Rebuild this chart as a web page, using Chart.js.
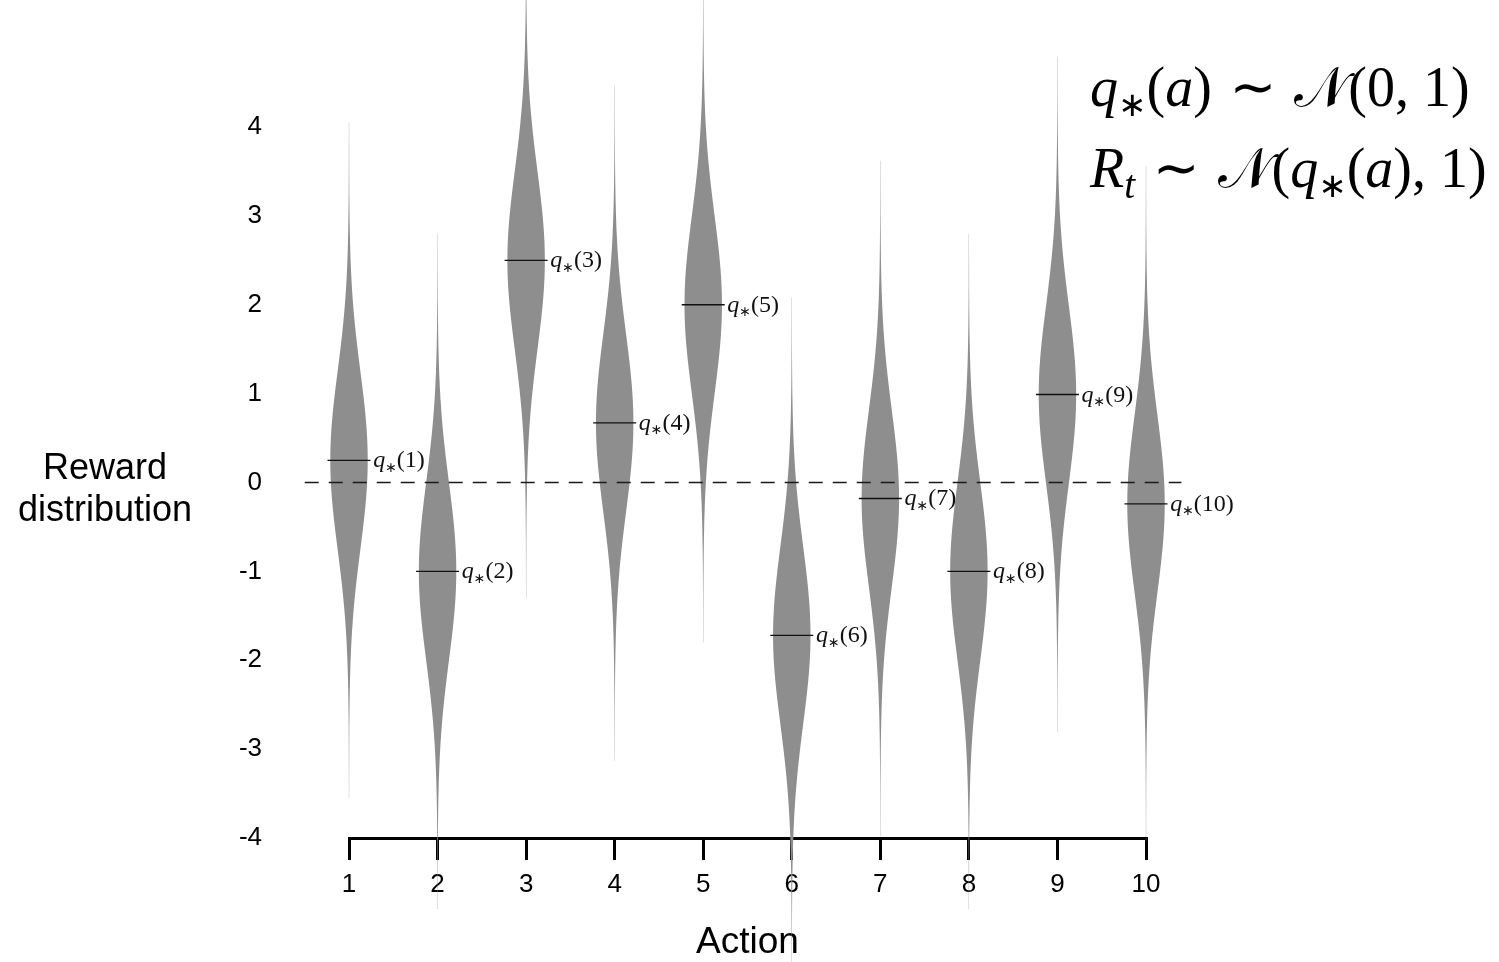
<!DOCTYPE html>
<html lang="en">

<head>
    <meta charset="UTF-8" />
    <title>Reward distribution | 10-armed testbed</title>
    <script src="https://cdn.jsdelivr.net/npm/chart.js"></script>
    <style>
        html, body { margin: 0; padding: 0; background: #fff; }
    </style>
</head>

<body>
    <canvas id="myChartCanvas" width="1499" height="962"></canvas>
</body>

</html>

<script>
    // actions (x axis) and the true action values q*(a)
    const actions = [1, 2, 3, 4, 5, 6, 7, 8, 9, 10];
    const qStar = [0.25, -1.0, 2.5, 0.67, 2.0, -1.72, -0.18, -1.0, 0.99, -0.24];
    const yTicks = [-4, -3, -2, -1, 0, 1, 2, 3, 4];

    const sansFont = '"Liberation Sans", Arial, Helvetica, sans-serif';
    const serifFont = '"Liberation Serif", "DejaVu Serif", serif';

    // draws a list of text pieces one after another (for the little formulas)
    function drawRuns(ctx, runs, x, y, size) {
        for (const r of runs) {
            ctx.font = `${r.it ? 'italic ' : ''}${Math.round(size * (r.s || 1))}px ${r.f || serifFont}`;
            ctx.fillText(r.t, x, y + size * (r.dy || 0));
            x += ctx.measureText(r.t).width + size * (r.sp || 0);
        }
        return x;
    }

    // violins: unit-variance normal around each q*(a), drawn with the chart scales
    const violinPlugin = {
        id: 'violins',
        beforeDatasetsDraw(chart) {
            const { ctx, scales: { x, y } } = chart;
            const maxHalf = 0.21; // half width of the violin at its peak, in x units
            const spread = 3.8;
            const steps = 240;
            ctx.save();
            ctx.fillStyle = '#8e8e8e';
            for (let i = 0; i < actions.length; i++) {
                const cx = x.getPixelForValue(actions[i]);
                const q = qStar[i];
                ctx.beginPath();
                for (let k = 0; k <= steps; k++) {
                    const v = q + spread - k * 2 * spread / steps;
                    const d = Math.exp(-0.5 * (v - q) * (v - q));
                    const hw = x.getPixelForValue(actions[i] + maxHalf * d) - cx + 0.12;
                    ctx.lineTo(cx + hw, y.getPixelForValue(v));
                }
                for (let k = steps; k >= 0; k--) {
                    const v = q + spread - k * 2 * spread / steps;
                    const d = Math.exp(-0.5 * (v - q) * (v - q));
                    const hw = x.getPixelForValue(actions[i] + maxHalf * d) - cx + 0.12;
                    ctx.lineTo(cx - hw, y.getPixelForValue(v));
                }
                ctx.closePath();
                ctx.fill();
            }

            // dashed zero line
            const y0 = y.getPixelForValue(0);
            ctx.strokeStyle = '#1a1a1a';
            ctx.lineWidth = 1.5;
            ctx.setLineDash([14, 10]);
            ctx.beginPath();
            ctx.moveTo(x.getPixelForValue(0.5), y0);
            ctx.lineTo(x.getPixelForValue(10.4), y0);
            ctx.stroke();
            ctx.restore();
        },
        afterDatasetsDraw(chart) {
            const { ctx, scales: { x, y } } = chart;
            ctx.save();
            ctx.fillStyle = '#111';
            ctx.textBaseline = 'alphabetic';

            const sub = { s: 0.6, dy: 0.18, f: '"DejaVu Sans", sans-serif' };

            // q*(a) labels next to each mean line
            for (let i = 0; i < actions.length; i++) {
                const lx = x.getPixelForValue(actions[i] + 0.25) + 2;
                const ly = y.getPixelForValue(qStar[i]) + 7;
                drawRuns(ctx, [
                    { t: 'q', it: 1 },
                    Object.assign({ t: '∗' }, sub),
                    { t: '(' + actions[i] + ')' }
                ], lx, ly, 24);
            }

            // formulas top right
            ctx.fillStyle = '#000';
            const tilde = { t: ' ∼ ', f: '"DejaVu Sans", sans-serif' };
            drawRuns(ctx, [
                { t: 'q', it: 1 },
                Object.assign({ t: '∗' }, sub),
                { t: '(' },
                { t: 'a', it: 1 },
                { t: ')' },
                tilde,
                { t: '𝒩' },
                { t: '(0, 1)' }
            ], 1090, 106, 56);
            drawRuns(ctx, [
                { t: 'R', it: 1 },
                { t: 't', it: 1, s: 0.7, dy: 0.2 },
                tilde,
                { t: '𝒩' },
                { t: '(' },
                { t: 'q', it: 1 },
                Object.assign({ t: '∗' }, sub),
                { t: '(' },
                { t: 'a', it: 1 },
                { t: '), 1)' }
            ], 1090, 187, 56);

            // y axis title, written flat like the original
            ctx.font = `36px ${sansFont}`;
            ctx.textAlign = 'center';
            ctx.fillText('Reward', 105, 479);
            ctx.fillText('distribution', 105, 521);
            ctx.restore();
        }
    };

    const config = {
        type: 'scatter',
        data: {
            datasets: [{
                label: 'q*(a)',
                data: actions.map((a, i) => ({ x: a, y: qStar[i] })),
                pointStyle: 'line',
                pointRadius: 21.5,
                pointHoverRadius: 21.5,
                borderColor: '#111',
                borderWidth: 1.3,
                clip: false
            }]
        },
        options: {
            responsive: false,
            animation: false,
            devicePixelRatio: 1,
            layout: { padding: { top: 127, right: 353, bottom: -3, left: 0 } },
            plugins: {
                legend: { display: false },
                tooltip: { enabled: false }
            },
            scales: {
                x: {
                    type: 'linear',
                    min: 1,
                    max: 10,
                    afterFit: s => { s.height = 127; },
                    ticks: {
                        stepSize: 1,
                        color: '#000',
                        padding: 9,
                        font: { family: sansFont, size: 26 }
                    },
                    grid: {
                        drawOnChartArea: false,
                        drawTicks: true,
                        tickLength: 22,
                        color: '#000',
                        lineWidth: 3
                    },
                    border: { display: true, color: '#000', width: 3 },
                    title: {
                        display: true,
                        text: 'Action',
                        color: '#000',
                        font: { family: sansFont, size: 37 },
                        padding: { top: 0, bottom: 0 }
                    }
                },
                y: {
                    min: -4,
                    max: 4,
                    afterFit: s => { s.width = 349; },
                    afterBuildTicks: s => { s.ticks = yTicks.map(v => ({ value: v })); },
                    ticks: {
                        color: '#000',
                        padding: 79,
                        font: { family: sansFont, size: 26 }
                    },
                    grid: { display: false },
                    border: { display: false }
                }
            }
        },
        plugins: [violinPlugin]
    };

    Chart.defaults.color = '#000';
    let myChart = new Chart(document.getElementById('myChartCanvas'), config);
</script>
